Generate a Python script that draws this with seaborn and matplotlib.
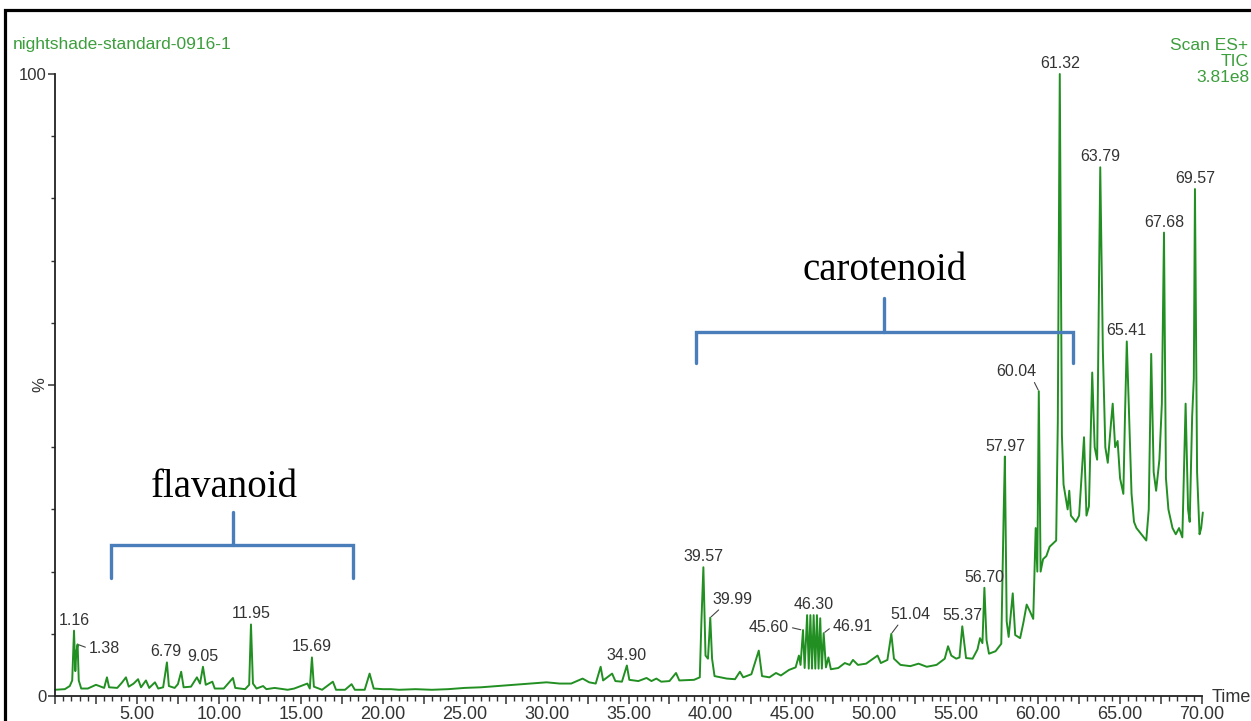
import numpy as np
import pandas as pd
import seaborn as sns
import matplotlib.pyplot as plt
from matplotlib.ticker import MultipleLocator, FuncFormatter
from matplotlib.patches import Rectangle

# chromatogram trace (time in min, relative intensity %)
times = [0.0, 0.6, 0.9, 1.05, 1.16, 1.24, 1.30, 1.38, 1.45, 1.6, 2.0, 2.5, 2.8, 3.0, 3.17, 3.3,
         3.8, 4.1, 4.33, 4.5, 4.8, 5.07, 5.25, 5.55, 5.75, 6.1, 6.3, 6.6, 6.83, 6.95, 7.3, 7.5,
         7.7, 7.85, 8.3, 8.66, 8.85, 9.03, 9.2, 9.6, 9.75, 10.3, 10.86, 11.0, 11.6, 11.85, 11.96,
         12.08, 12.3, 12.7, 12.9, 13.4, 14.2, 14.6, 15.4, 15.55, 15.68, 15.8, 16.3, 16.96, 17.15,
         17.7, 18.1, 18.3, 18.9, 19.2, 19.45, 20.0, 20.5, 21.0, 22.0, 23.0, 24.0, 25.0, 26.0,
         27.0, 28.0, 29.0, 30.0, 30.8, 31.5, 32.2, 32.6, 33.0, 33.3, 33.45, 34.0, 34.2, 34.6,
         34.9, 35.05, 35.6, 36.1, 36.4, 36.7, 37.0, 37.5, 37.9, 38.1, 39.0, 39.35, 39.45, 39.57,
         39.7, 39.85, 39.99, 40.1, 40.25, 41.0, 41.5, 41.8, 42.0, 42.5, 42.8, 42.95, 43.15, 43.6,
         44.0, 44.3, 44.8, 45.2, 45.4, 45.5, 45.65, 45.75, 45.9, 46.0, 46.1, 46.2, 46.3, 46.4,
         46.5, 46.6, 46.7, 46.8, 46.91, 47.05, 47.2, 47.35, 47.8, 48.2, 48.5, 48.7, 49.0, 49.5,
         50.2, 50.4, 50.8, 51.04, 51.2, 51.6, 52.2, 52.7, 53.2, 53.8, 54.3, 54.5, 54.7, 55.0,
         55.2, 55.37, 55.6, 56.0, 56.3, 56.45, 56.6, 56.72, 56.85, 57.0, 57.4, 57.75, 57.9, 57.97,
         58.08, 58.2, 58.45, 58.6, 58.9, 59.1, 59.3, 59.5, 59.7, 59.85, 59.95, 60.04, 60.15, 60.3,
         60.5, 60.7, 60.9, 61.1, 61.2, 61.32, 61.45, 61.55, 61.8, 61.9, 62.0, 62.3, 62.5, 62.8,
         62.95, 63.1, 63.3, 63.45, 63.6, 63.79, 63.95, 64.1, 64.25, 64.45, 64.55, 64.7, 64.85,
         65.0, 65.2, 65.3, 65.41, 65.55, 65.7, 65.85, 66.0, 66.3, 66.6, 66.75, 66.9, 67.05, 67.2,
         67.4, 67.55, 67.68, 67.8, 67.95, 68.2, 68.4, 68.6, 68.8, 69.0, 69.15, 69.25, 69.4, 69.5,
         69.57, 69.7, 69.85, 69.95, 70.05]
intensity = [1.0, 1.1, 1.6, 2.5, 10.5, 4.0, 7.0, 8.3, 2.5, 1.2, 1.2, 1.8, 1.5, 1.3, 3.0, 1.4,
             1.3, 2.2, 3.0, 1.5, 2.0, 2.7, 1.4, 2.5, 1.3, 2.2, 1.2, 1.4, 5.4, 1.6, 1.3, 1.9,
             3.9, 1.4, 1.5, 3.0, 2.0, 4.7, 1.8, 2.3, 1.2, 1.2, 2.9, 1.3, 1.1, 1.8, 11.5,
             2.0, 1.2, 1.6, 1.1, 1.3, 1.0, 1.2, 2.0, 1.2, 6.2, 1.5, 1.0, 2.3, 1.0,
             1.0, 1.9, 1.0, 1.0, 3.6, 1.2, 1.1, 1.1, 1.0, 1.1, 1.0, 1.1, 1.3, 1.4,
             1.6, 1.8, 2.0, 2.2, 2.0, 2.0, 2.8, 2.2, 2.0, 4.7, 2.5, 3.6, 2.4, 2.3,
             4.9, 2.6, 2.4, 2.9, 2.4, 2.8, 2.3, 2.4, 3.7, 2.5, 2.6, 3.0, 12.0, 20.7,
             6.5, 6.0, 12.6, 6.0, 3.2, 2.8, 2.7, 3.9, 3.0, 3.5, 6.0, 7.3, 3.2, 3.0,
             3.7, 3.3, 4.2, 4.6, 6.5, 5.0, 10.6, 4.5, 13.0, 4.4, 13.0, 4.4, 13.0, 4.4,
             13.0, 4.4, 12.5, 4.4, 10.1, 4.6, 6.2, 4.3, 4.5, 5.3, 5.0, 5.8, 5.0, 5.2,
             6.5, 5.3, 5.8, 10.0, 6.0, 5.0, 4.8, 5.2, 4.7, 5.0, 6.0, 8.0, 6.5, 6.0,
             6.2, 11.2, 6.1, 6.0, 7.5, 9.3, 8.5, 17.4, 9.0, 6.8, 7.2, 8.4, 30.0, 38.5,
             12.0, 9.5, 16.5, 9.8, 9.3, 11.8, 14.7, 13.6, 12.4, 27.0, 20.0, 49.0, 20.0, 22.0,
             22.5, 24.0, 24.5, 25.0, 44.0, 100.0, 42.0, 34.0, 30.0, 33.0, 29.0, 28.0, 29.0, 41.6,
             29.0, 30.5, 52.0, 40.0, 38.0, 85.0, 55.5, 40.0, 37.5, 44.0, 47.0, 40.0, 41.0,
             35.0, 32.5, 45.0, 57.0, 45.0, 32.5, 28.0, 27.0, 26.0, 25.0, 30.0, 55.0, 36.0, 33.0,
             38.0, 47.0, 74.5, 35.0, 30.0, 27.0, 26.0, 27.0, 25.5, 47.0, 30.0, 28.0, 45.0, 51.0,
             81.5, 36.0, 26.0, 27.0, 29.5]

peak_labels = ["1.16", "1.38", "6.79", "9.05", "11.95", "15.69", "34.90", "39.57", "39.99",
               "45.60", "46.30", "46.91", "51.04", "55.37", "56.70", "57.97", "60.04", "61.32",
               "63.79", "65.41", "67.68", "69.57"]

x_ticks = [5, 10, 15, 20, 25, 30, 35, 40, 45, 50, 55, 60, 65, 70]

df = pd.DataFrame({"time": times, "pct": intensity})

sns.set_style("white")
plt.rcParams["font.family"] = ["Liberation Sans", "DejaVu Sans"]

fig = plt.figure(figsize=(12.51, 7.21), dpi=100)
W, H = 1251, 721
ax = fig.add_axes([55 / W, 1 - 696 / H, (1202 - 55) / W, (696 - 74) / H])

sns.lineplot(data=df, x="time", y="pct", ax=ax, color="#228f22", lw=1.4,
             estimator=None, sort=False, clip_on=False)

ax.set_xlim(0, 70)
ax.set_ylim(0, 100)
ax.set_xlabel("")
ax.set_ylabel("")
for s in ["top", "right"]:
    ax.spines[s].set_visible(False)
for s in ["left", "bottom"]:
    ax.spines[s].set_color("#222222")
    ax.spines[s].set_linewidth(1.3)

ax.xaxis.set_major_locator(MultipleLocator(2.5))
ax.xaxis.set_minor_locator(MultipleLocator(0.5))
ax.xaxis.set_major_formatter(FuncFormatter(
    lambda v, p: f"{v:.2f}" if (round(v) in x_ticks and abs(v - round(v)) < 1e-6) else ""))
ax.set_yticks([0, 50, 100])
ax.set_yticklabels(["0", "", "100"])
ax.yaxis.set_minor_locator(MultipleLocator(10))
ax.tick_params(axis="x", which="major", bottom=True, length=6, width=1.1, color="#333333",
               labelsize=13, labelcolor="#333333", pad=1)
ax.tick_params(axis="x", which="minor", bottom=True, length=3.5, width=1.0, color="#333333")
ax.tick_params(axis="y", which="major", left=True, length=5, width=1.1, color="#333333",
               labelsize=12, labelcolor="#333333", pad=1)
ax.tick_params(axis="y", which="minor", left=True, length=3, width=1.0, color="#333333")
ax.text(-15 / 1147, 0.5, "%", transform=ax.transAxes, rotation=90, ha="center", va="center",
        fontsize=12, color="#333333")

# peak labels
t_arr = np.array(times)
i_arr = np.array(intensity)
leaders = {
    "1.38": ((11, -4), "left", "center", (0, 0.5)),
    "39.99": ((2, 11), "left", "bottom", (0.25, 0)),
    "45.60": ((-13, 3), "right", "center", (1, 0.5)),
    "46.91": ((9, 7), "left", "center", (0, 0.5)),
    "51.04": ((-1, 12), "left", "bottom", (0.25, 0)),
    "60.04": ((-2, 12), "right", "bottom", (0.9, 0)),
}
for lab in peak_labels:
    t = float(lab)
    near = np.abs(t_arr - t) <= 0.06
    y = i_arr[near].max()
    if lab in leaders:
        off, ha, va, rel = leaders[lab]
        ax.annotate(lab, xy=(t, y), xytext=off, textcoords="offset pixels", ha=ha, va=va,
                    fontsize=11.5, color="#333333",
                    arrowprops=dict(arrowstyle="-", color="#444444", lw=0.8, relpos=rel,
                                    shrinkA=0, shrinkB=1))
    else:
        ax.annotate(lab, xy=(t, y), xytext=(0, 3), textcoords="offset pixels", ha="center",
                    va="bottom", fontsize=11.5, color="#333333")

# brackets and class names
blue = "#4a7ebb"
ax.plot([3.42, 3.42, 18.18, 18.18], [19.0, 24.3, 24.3, 19.0], color=blue, lw=2.4,
        solid_joinstyle="miter", clip_on=False)
ax.plot([10.86, 10.86], [24.3, 29.6], color=blue, lw=2.4, clip_on=False)
ax.plot([39.1, 39.1, 62.1, 62.1], [53.5, 58.5, 58.5, 53.5], color=blue, lw=2.4,
        solid_joinstyle="miter", clip_on=False)
ax.plot([50.6, 50.6], [58.5, 64.0], color=blue, lw=2.4, clip_on=False)
ax.text(10.3, 32.0, "flavanoid", ha="center", va="baseline", fontsize=28,
        family=["Liberation Serif", "DejaVu Serif"], color="black")
ax.text(50.6, 66.9, "carotenoid", ha="center", va="baseline", fontsize=28,
        family=["Liberation Serif", "DejaVu Serif"], color="black")

# header texts
green = "#3c9e3c"
fig.text(13 / W, 1 - 45 / H, "nightshade-standard-0916-1", ha="left", va="center",
         fontsize=12.5, color=green)
fig.text(1248 / W, 1 - 45 / H, "Scan ES+", ha="right", va="center", fontsize=12.5, color=green)
fig.text(1249 / W, 1 - 62 / H, "TIC", ha="right", va="center", fontsize=12.5, color=green)
fig.text(1249 / W, 1 - 78 / H, "3.81e8", ha="right", va="center", fontsize=12.5, color=green)
fig.text(1212 / W, 1 - 697 / H, "Time", ha="left", va="center", fontsize=13, color="#333333")

# outer frame
fig.patches.append(Rectangle((5 / W, -0.1), 1.2, 1 - 10 / H + 0.1, transform=fig.transFigure,
                             fill=False, lw=2.3, edgecolor="black", clip_on=False))

fig.savefig("out.png", dpi=100)
